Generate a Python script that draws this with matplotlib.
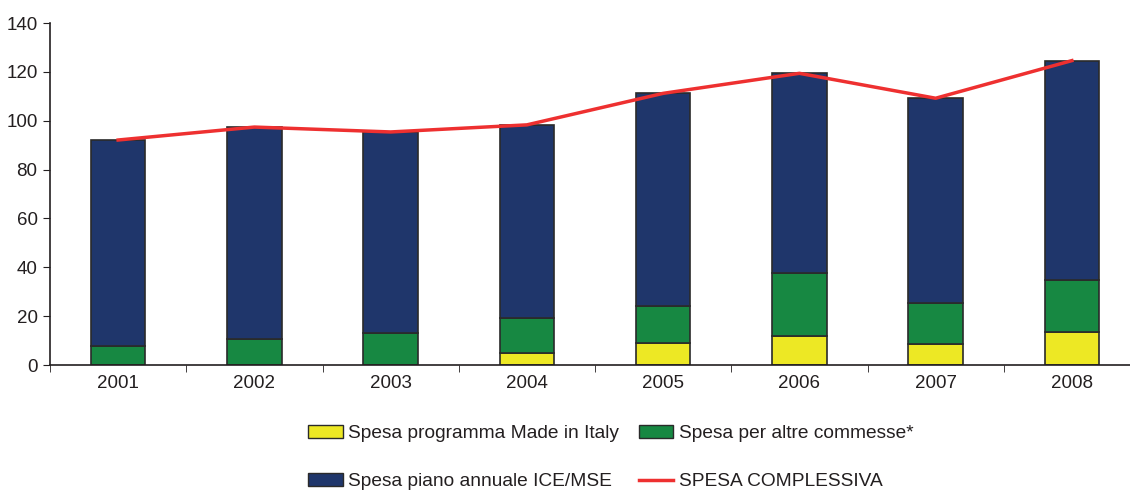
import numpy as np
import matplotlib.pyplot as plt
from matplotlib.patches import Patch
from matplotlib.lines import Line2D

plt.rcParams['font.family'] = ['Liberation Sans', 'DejaVu Sans']

years = ['2001', '2002', '2003', '2004', '2005', '2006', '2007', '2008']
made_in_italy = [0.0, 0.0, 0.0, 4.8, 8.9, 11.7, 8.7, 13.6]
altre_commesse = [7.8, 10.6, 13.1, 14.5, 15.4, 25.8, 16.7, 21.2]
piano_annuale = [84.3, 86.8, 82.3, 79.0, 86.9, 81.9, 83.8, 89.8]
totale = [92.1, 97.4, 95.4, 98.3, 111.2, 119.4, 109.2, 124.6]

c_yellow = '#ede824'
c_green = '#178842'
c_navy = '#1f366b'
c_red = '#ee3030'
edge = '#2a2a2a'
txt = '#231f20'

fig = plt.figure(figsize=(11.3, 4.9), dpi=100)
ax = fig.add_axes([50 / 1130, 1 - 365 / 490, 1090 / 1130, 342 / 490])

x = np.arange(len(years))
w = 0.4
y1 = np.array(made_in_italy)
y2 = np.array(altre_commesse)
y3 = np.array(piano_annuale)
ax.bar(x, y1, w, color=c_yellow, edgecolor=edge, linewidth=1.2, zorder=2)
ax.bar(x, y2, w, bottom=y1, color=c_green, edgecolor=edge, linewidth=1.2, zorder=2)
ax.bar(x, y3, w, bottom=y1 + y2, color=c_navy, edgecolor=edge, linewidth=1.2, zorder=2)
ax.plot(x, totale, color=c_red, linewidth=2.5, zorder=3)

ax.set_xlim(-0.5, 7.5)
ax.set_ylim(0, 140)
ax.set_yticks(range(0, 141, 20))
ax.set_xticks(x)
ax.set_xticklabels(years)
ax.set_xticks(np.arange(-0.5, 7.6, 1), minor=True)
ax.tick_params(axis='x', which='major', length=0, pad=7, labelsize=13.5, colors=txt)
ax.tick_params(axis='x', which='minor', length=5, color=txt)
ax.tick_params(axis='y', length=5, pad=4, labelsize=13.5, colors=txt)
for s in ['top', 'right']:
    ax.spines[s].set_visible(False)
for s in ['left', 'bottom']:
    ax.spines[s].set_color(txt)
    ax.spines[s].set_linewidth(1.2)

handles = [Patch(facecolor=c_yellow, edgecolor=edge),
           Patch(facecolor=c_navy, edgecolor=edge),
           Patch(facecolor=c_green, edgecolor=edge),
           Line2D([0], [0], color=c_red, linewidth=2.5)]
labels = ['Spesa programma Made in Italy', 'Spesa piano annuale ICE/MSE',
          'Spesa per altre commesse*', 'SPESA COMPLESSIVA']
leg = fig.legend(handles, labels, ncol=2, loc='upper left', bbox_to_anchor=(291 / 1130, 1 - 408 / 490),
                 frameon=False, fontsize=13.8, labelspacing=1.6, handlelength=1.8, handleheight=0.65,
                 columnspacing=1.0, handletextpad=0.3)
for t in leg.get_texts():
    t.set_color(txt)

fig.savefig('out.png', dpi=100)
